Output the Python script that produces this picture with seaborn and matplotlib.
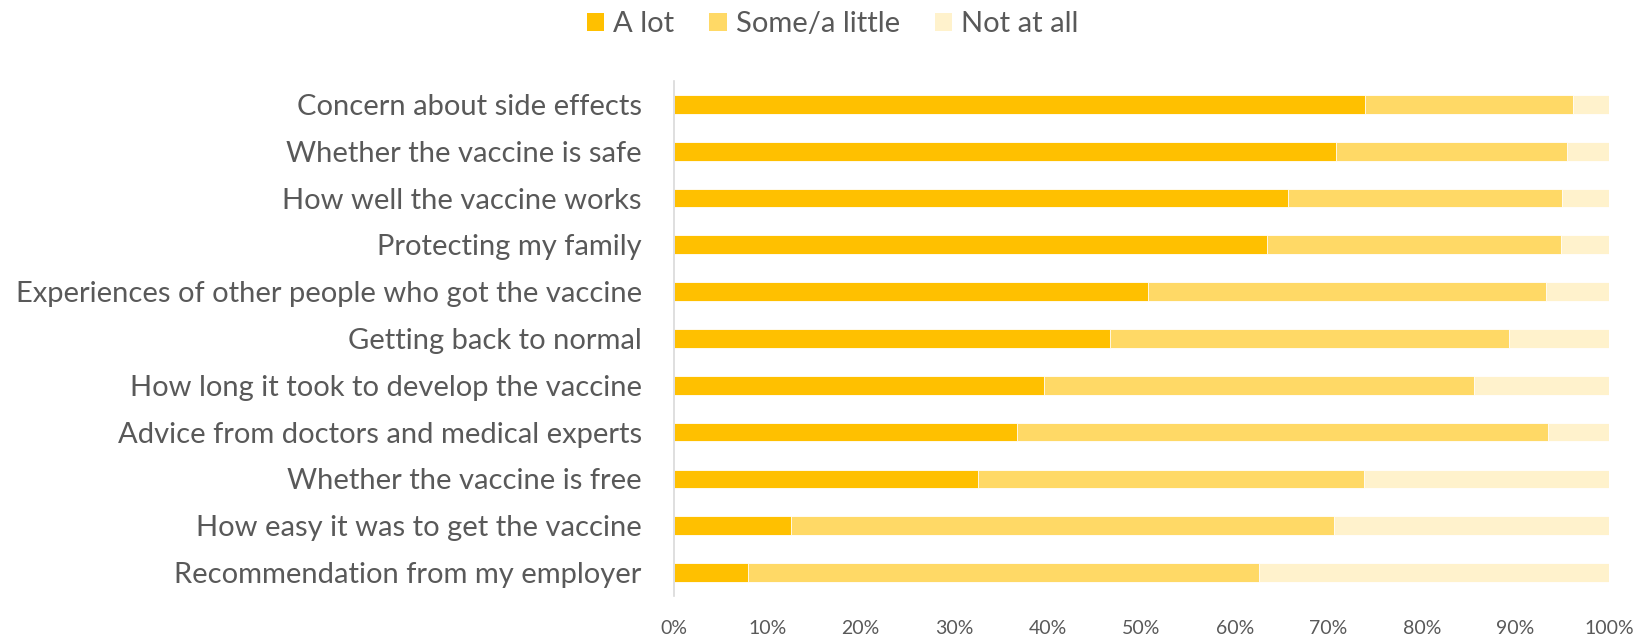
import matplotlib
matplotlib.use("Agg")
import matplotlib.pyplot as plt
import seaborn as sns
import pandas as pd
import numpy as np
from matplotlib.ticker import PercentFormatter
from matplotlib.patches import Patch

categories = [
    "Concern about side effects",
    "Whether the vaccine is safe",
    "How well the vaccine works",
    "Protecting my family",
    "Experiences of other people who got the vaccine",
    "Getting back to normal",
    "How long it took to develop the vaccine",
    "Advice from doctors and medical experts",
    "Whether the vaccine is free",
    "How easy it was to get the vaccine",
    "Recommendation from my employer",
]
a_lot = [73.9, 70.8, 65.7, 63.4, 50.7, 46.6, 39.6, 36.7, 32.5, 12.6, 7.9]
some_little = [22.2, 24.7, 29.3, 31.5, 42.6, 42.7, 46.0, 56.8, 41.3, 58.0, 54.7]
not_at_all = [3.9, 4.5, 5.0, 5.1, 6.7, 10.7, 14.4, 6.5, 26.2, 29.4, 37.4]
series_names = ["A lot", "Some/a little", "Not at all"]
colors = ["#FFC000", "#FFD966", "#FFF2CC"]

sns.set_theme(style="white")
plt.rcParams['font.family'] = ['Lato', 'DejaVu Sans']

df = pd.DataFrame({"cat": categories, "a": a_lot, "s": some_little, "n": not_at_all})
df["c1"] = df["a"]
df["c2"] = df["a"] + df["s"]
df["c3"] = df["a"] + df["s"] + df["n"]

fig = plt.figure(figsize=(16.39, 6.38), dpi=100)
ax = fig.add_axes([0.411, 0.066, 0.5707, 0.807])

for col, color in zip(["c3", "c2", "c1"], colors[::-1]):
    sns.barplot(data=df, x=col, y="cat", orient="h", color=color, width=0.4,
                edgecolor="white", linewidth=0.6, ax=ax, saturation=1)

ax.set_xlim(0, 100)
ax.set_ylim(10.5, -0.5)
ax.set_xlabel("")
ax.set_ylabel("")
ax.set_xticks(np.arange(0, 101, 10))
ax.xaxis.set_major_formatter(PercentFormatter(decimals=0))
ax.tick_params(axis="x", length=0, labelsize=14, labelcolor="#595959", pad=17)
ax.tick_params(axis="y", length=0, labelsize=21, labelcolor="#595959", pad=23)
for s in ["top", "right", "bottom"]:
    ax.spines[s].set_visible(False)
ax.spines["left"].set_color("#D9D9D9")
ax.spines["left"].set_linewidth(1.2)

handles = [Patch(facecolor=c, edgecolor="none", label=l) for c, l in zip(colors, series_names)]
fig.legend(handles=handles, loc="center", bbox_to_anchor=(0.508, 0.962), ncol=3,
           frameon=False, fontsize=21, labelcolor="#595959",
           handlelength=0.6, handleheight=0.6, handletextpad=0.3, columnspacing=1.2)

fig.savefig("out.png", dpi=100)
